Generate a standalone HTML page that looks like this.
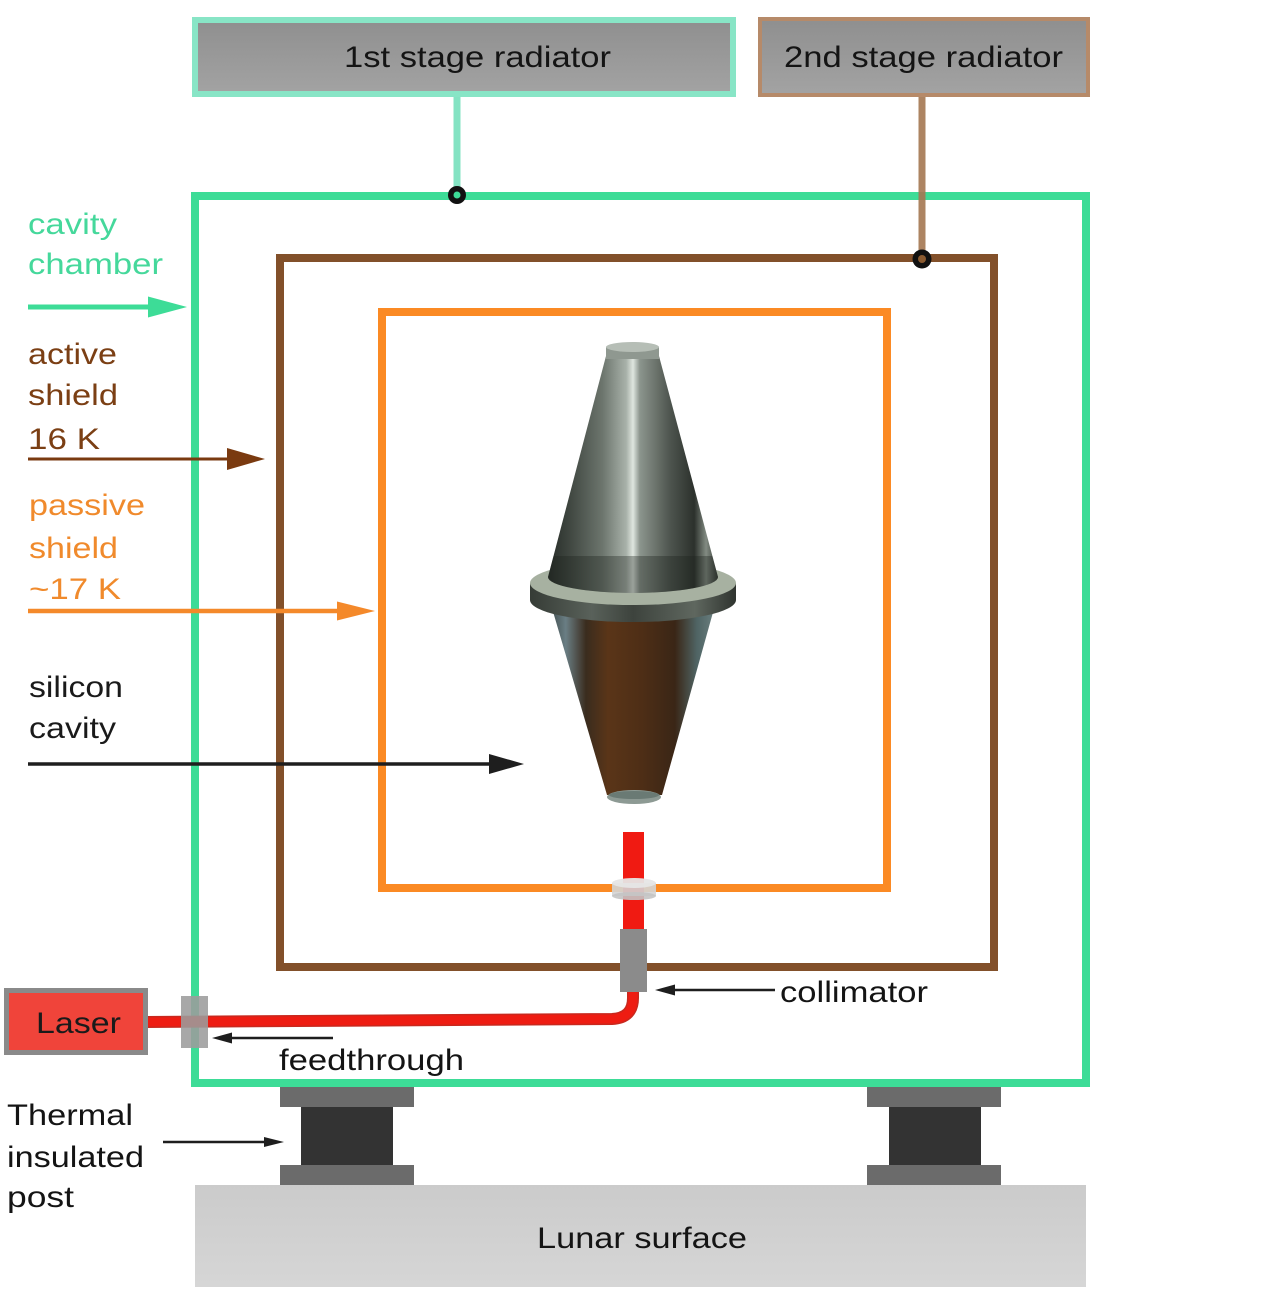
<!DOCTYPE html>
<html>
<head>
<meta charset="utf-8">
<style>
  html,body{margin:0;padding:0;background:#fff;}
  body{width:1280px;height:1300px;overflow:hidden;}
  svg{display:block;}
  text{font-family:"Liberation Sans",Arial,sans-serif;}
</style>
</head>
<body>
<svg width="1280" height="1300" viewBox="0 0 1280 1300" xmlns="http://www.w3.org/2000/svg">
  <defs>
    <linearGradient id="upperCone" x1="0" y1="0" x2="1" y2="0">
      <stop offset="0" stop-color="#262b27"/>
      <stop offset="0.12" stop-color="#3e453f"/>
      <stop offset="0.32" stop-color="#6c756d"/>
      <stop offset="0.46" stop-color="#a8b1a9"/>
      <stop offset="0.5" stop-color="#dfe6df"/>
      <stop offset="0.54" stop-color="#8c958d"/>
      <stop offset="0.72" stop-color="#4d544e"/>
      <stop offset="0.86" stop-color="#2c312c"/>
      <stop offset="0.93" stop-color="#828b82"/>
      <stop offset="1" stop-color="#343934"/>
    </linearGradient>
    <linearGradient id="lowerCone" x1="0" y1="0" x2="1" y2="0">
      <stop offset="0" stop-color="#3e4a4a"/>
      <stop offset="0.1" stop-color="#6a7e84"/>
      <stop offset="0.22" stop-color="#3a2c1e"/>
      <stop offset="0.35" stop-color="#5a3518"/>
      <stop offset="0.55" stop-color="#4e2e16"/>
      <stop offset="0.75" stop-color="#3a2616"/>
      <stop offset="0.88" stop-color="#4f6464"/>
      <stop offset="1" stop-color="#6e8282"/>
    </linearGradient>
    <linearGradient id="flangeSide" x1="0" y1="0" x2="1" y2="0">
      <stop offset="0" stop-color="#363c36"/>
      <stop offset="0.3" stop-color="#59615a"/>
      <stop offset="0.5" stop-color="#3d433d"/>
      <stop offset="0.8" stop-color="#5f675f"/>
      <stop offset="1" stop-color="#2f342f"/>
    </linearGradient>
    <linearGradient id="radGray" x1="0" y1="0" x2="0" y2="1">
      <stop offset="0" stop-color="#8f8f8f"/>
      <stop offset="1" stop-color="#a3a3a3"/>
    </linearGradient>
    <linearGradient id="lunar" x1="0" y1="0" x2="0" y2="1">
      <stop offset="0" stop-color="#cbcbcb"/>
      <stop offset="1" stop-color="#d6d6d6"/>
    </linearGradient>
    <clipPath id="coneClip">
      <path d="M606,356 L659,356 L718,577 A85,16 0 0 1 548,577 Z"/>
    </clipPath>
  </defs>

  <!-- Radiator boxes -->
  <rect x="195" y="20" width="538" height="74" fill="url(#radGray)" stroke="#88e5c6" stroke-width="6"/>
  <text x="344" y="67" font-size="30" fill="#141414" textLength="267" lengthAdjust="spacingAndGlyphs">1st stage radiator</text>

  <rect x="760" y="19" width="328" height="76" fill="url(#radGray)" stroke="#b68a69" stroke-width="4"/>
  <text x="784" y="67" font-size="30" fill="#141414" textLength="279" lengthAdjust="spacingAndGlyphs">2nd stage radiator</text>

  <!-- connector 1st stage -->
  <line x1="457" y1="97" x2="457" y2="196" stroke="#84e3c3" stroke-width="7"/>

  <!-- Nested rectangles -->
  <rect x="195" y="196" width="891" height="887" fill="none" stroke="#3ddc97" stroke-width="8"/>
  <rect x="280" y="258" width="714" height="709" fill="none" stroke="#82502a" stroke-width="8"/>
  <rect x="382" y="312" width="505" height="576" fill="none" stroke="#fb8a24" stroke-width="8"/>

  <!-- connector 2nd stage -->
  <line x1="922" y1="97" x2="922" y2="259" stroke="#a57752" stroke-width="7" opacity="0.9"/>

  <!-- dots -->
  <circle cx="457" cy="195" r="9" fill="#111"/>
  <circle cx="457" cy="195" r="3.5" fill="#3ddc97"/>
  <circle cx="922" cy="259" r="9.5" fill="#111"/>
  <circle cx="922" cy="259" r="4" fill="#8a5a30"/>

  <!-- Cavity: lower cone -->
  <polygon points="549,598 717,598 662,795 607,795" fill="url(#lowerCone)"/>
  <ellipse cx="634" cy="797" rx="27" ry="7" fill="#8d9a94"/>
  <ellipse cx="634" cy="795" rx="25" ry="4" fill="#6a7a74"/>

  <!-- flange -->
  <path d="M530,583 L530,600 A103,22 0 0 0 736,600 L736,583 Z" fill="url(#flangeSide)"/>
  <ellipse cx="633" cy="583" rx="103" ry="22" fill="#a7b1a1"/>

  <!-- upper cone -->
  <path d="M606,356 L659,356 L718,577 A85,16 0 0 1 548,577 Z" fill="url(#upperCone)"/>
  <g clip-path="url(#coneClip)">
    <rect x="540" y="556" width="190" height="40" fill="#1e221e" opacity="0.35"/>
  </g>
  <!-- top cap -->
  <rect x="606" y="347" width="53" height="12" fill="#8f9890"/>
  <ellipse cx="632.5" cy="347" rx="26.5" ry="5" fill="#b6beb6"/>

  <!-- Red beam vertical -->
  <rect x="623" y="832" width="21" height="98" fill="#f01a12"/>
  <!-- window at passive shield -->
  <rect x="612" y="883" width="44" height="13" fill="#d4d4d4" opacity="0.9"/>
  <ellipse cx="634" cy="896" rx="22" ry="4" fill="#c4c4c4" opacity="0.9"/>
  <ellipse cx="634" cy="883" rx="22" ry="5" fill="#e6e6e6" opacity="0.95"/>

  <!-- fiber -->
  <path d="M146,1022 L612,1019 Q633,1018 633,998 L633,990" fill="none" stroke="#c8281e" stroke-width="12"/>
  <path d="M146,1022 L612,1019 Q633,1018 633,998 L633,990" fill="none" stroke="#ee1c12" stroke-width="9"/>

  <!-- collimator -->
  <rect x="620" y="929" width="27" height="63" fill="#8b8b8b"/>

  <!-- Laser -->
  <rect x="6.5" y="990.5" width="139" height="62" fill="#f0443a" stroke="#8a8a8a" stroke-width="5"/>
  <text x="36" y="1033" font-size="30" fill="#1a1a1a" textLength="85" lengthAdjust="spacingAndGlyphs">Laser</text>

  <!-- feedthrough -->
  <rect x="181" y="996" width="27" height="52" fill="#9c9c9c" opacity="0.88"/>

  <!-- Posts -->
  <rect x="280" y="1087" width="134" height="20" fill="#6b6b6b"/>
  <rect x="301" y="1107" width="92" height="58" fill="#333333"/>
  <rect x="280" y="1165" width="134" height="21" fill="#6b6b6b"/>
  <rect x="867" y="1087" width="134" height="20" fill="#6b6b6b"/>
  <rect x="889" y="1107" width="92" height="58" fill="#333333"/>
  <rect x="867" y="1165" width="134" height="21" fill="#6b6b6b"/>

  <!-- Lunar surface -->
  <rect x="195" y="1185" width="891" height="102" fill="url(#lunar)"/>
  <text x="537" y="1248" font-size="30" fill="#141414" textLength="210" lengthAdjust="spacingAndGlyphs">Lunar surface</text>

  <!-- Left labels -->
  <text x="28" y="234" font-size="30" fill="#45d89b" textLength="89" lengthAdjust="spacingAndGlyphs">cavity</text>
  <text x="28" y="274" font-size="30" fill="#45d89b" textLength="135" lengthAdjust="spacingAndGlyphs">chamber</text>

  <text x="28" y="364" font-size="30" fill="#7b3f14" textLength="89" lengthAdjust="spacingAndGlyphs">active</text>
  <text x="28" y="405" font-size="30" fill="#7b3f14" textLength="90" lengthAdjust="spacingAndGlyphs">shield</text>
  <text x="28" y="449" font-size="30" fill="#7b3f14" textLength="72" lengthAdjust="spacingAndGlyphs">16 K</text>

  <text x="29" y="515" font-size="30" fill="#f08a2c" textLength="116" lengthAdjust="spacingAndGlyphs">passive</text>
  <text x="29" y="558" font-size="30" fill="#f08a2c" textLength="89" lengthAdjust="spacingAndGlyphs">shield</text>
  <text x="29" y="599" font-size="30" fill="#f08a2c" textLength="92" lengthAdjust="spacingAndGlyphs">~17 K</text>

  <text x="29" y="697" font-size="30" fill="#1a1a1a" textLength="94" lengthAdjust="spacingAndGlyphs">silicon</text>
  <text x="29" y="738" font-size="30" fill="#1a1a1a" textLength="87" lengthAdjust="spacingAndGlyphs">cavity</text>

  <text x="7" y="1125" font-size="30" fill="#141414" textLength="126" lengthAdjust="spacingAndGlyphs">Thermal</text>
  <text x="7" y="1167" font-size="30" fill="#141414" textLength="137" lengthAdjust="spacingAndGlyphs">insulated</text>
  <text x="7" y="1207" font-size="30" fill="#141414" textLength="67" lengthAdjust="spacingAndGlyphs">post</text>

  <text x="279" y="1070" font-size="30" fill="#141414" textLength="185" lengthAdjust="spacingAndGlyphs">feedthrough</text>
  <text x="780" y="1002" font-size="30" fill="#141414" textLength="148" lengthAdjust="spacingAndGlyphs">collimator</text>

  <!-- Arrows -->
  <line x1="28" y1="307" x2="152" y2="307" stroke="#3ddc97" stroke-width="5"/>
  <polygon points="148,296.5 187,307 148,317.5" fill="#3ddc97"/>

  <line x1="28" y1="459" x2="230" y2="459" stroke="#7a3a10" stroke-width="3"/>
  <polygon points="227,448 265,459 227,470" fill="#7a3a10"/>

  <line x1="28" y1="611" x2="340" y2="611" stroke="#f4892a" stroke-width="4.5"/>
  <polygon points="337,601.5 375,611 337,620.5" fill="#f4892a"/>

  <line x1="28" y1="764" x2="492" y2="764" stroke="#1e1e1e" stroke-width="3.5"/>
  <polygon points="489,754 524,764 489,774" fill="#1e1e1e"/>

  <line x1="333" y1="1038" x2="228" y2="1038" stroke="#1e1e1e" stroke-width="2.5"/>
  <polygon points="232,1032.5 212,1038 232,1043.5" fill="#1e1e1e"/>

  <line x1="775" y1="990" x2="672" y2="990" stroke="#1e1e1e" stroke-width="2.5"/>
  <polygon points="675,984.5 655,990 675,995.5" fill="#1e1e1e"/>

  <line x1="163" y1="1142" x2="266" y2="1142" stroke="#1e1e1e" stroke-width="2.5"/>
  <polygon points="264,1137 284,1142 264,1147" fill="#1e1e1e"/>
</svg>
</body>
</html>
